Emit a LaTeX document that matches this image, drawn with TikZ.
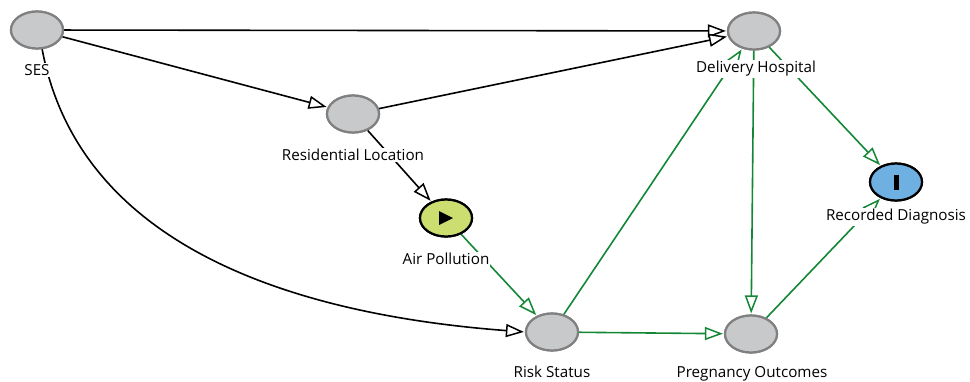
\documentclass[tikz,border=0pt]{standalone}
\usepackage{fontspec}
\setmainfont{Open Sans}
\usetikzlibrary{arrows.meta,shapes.geometric}
\definecolor{nodegray}{RGB}{200,201,203}
\definecolor{bordergray}{RGB}{128,128,128}
\definecolor{causal}{RGB}{20,135,55}
\definecolor{expo}{RGB}{204,222,112}
\definecolor{outc}{RGB}{110,176,226}
\tikzset{
  var/.style={ellipse,draw=bordergray,line width=2.2pt,fill=nodegray,minimum width=52pt,minimum height=37pt,inner sep=0pt},
  expnode/.style={var,draw=black,fill=expo},
  outnode/.style={var,draw=black,fill=outc},
  lbl/.style={fill=white,inner sep=1pt,font=\fontsize{15.2}{17}\selectfont},
  edge/.style={line width=1.6pt,black,-{Triangle[length=18pt,width=13pt,fill=white,line width=1.5pt]},shorten >=1pt},
  gedge/.style={edge,causal}
}
\begin{document}
\begin{tikzpicture}[x=1pt,y=-1pt]
\useasboundingbox (0,0) rectangle (970,381);
% node anchors
\node[var] (ses) at (37,30) {};
\node[var] (dh) at (754,31) {};
\node[var] (rl) at (353,114) {};
\node[expnode] (ap) at (446,218) {};
\node[outnode] (rd) at (896,182) {};
\node[var] (rs) at (552,332) {};
\node[var] (po) at (751,334) {};
% edges
\draw[edge] (ses) -- (dh);
\draw[edge] (ses) -- (rl);
\draw[edge] (ses.-75) .. controls (80,250) and (300,315) .. (rs.west);
\draw[edge] (rl) -- (dh);
\draw[edge] (rl) -- (ap);
\draw[gedge] (ap) -- (rs);
\draw[gedge] (rs) -- (dh);
\draw[gedge] (rs) -- (po);
\draw[gedge] (dh) -- (po);
\draw[gedge] (dh) -- (rd);
\draw[gedge] (po) -- (rd);
% redraw nodes on top
\node[var] at (ses) {};
\node[var] at (dh) {};
\node[var] at (rl) {};
\node[expnode] at (ap) {};
\node[outnode] at (rd) {};
\node[var] at (rs) {};
\node[var] at (po) {};
\fill[black] (439,211) -- (453,218) -- (439,225) -- cycle;
\fill[black] (893.5,174.5) rectangle (898.5,189.5);
% labels
\node[lbl] (lses) at (37,70) {SES};
\node[lbl] (ldh) at (756,69) {Delivery Hospital};
\node[lbl] (lrl) at (353,155) {Residential Location};
\node[lbl] (lap) at (446,259) {Air Pollution};
\node[lbl] (lrd) at (896,217) {Recorded Diagnosis};
\node[lbl] (lrs) at (552,372) {Risk Status};
\node[lbl] (lpo) at (752,374) {Pregnancy Outcomes};
\end{tikzpicture}
\end{document}
